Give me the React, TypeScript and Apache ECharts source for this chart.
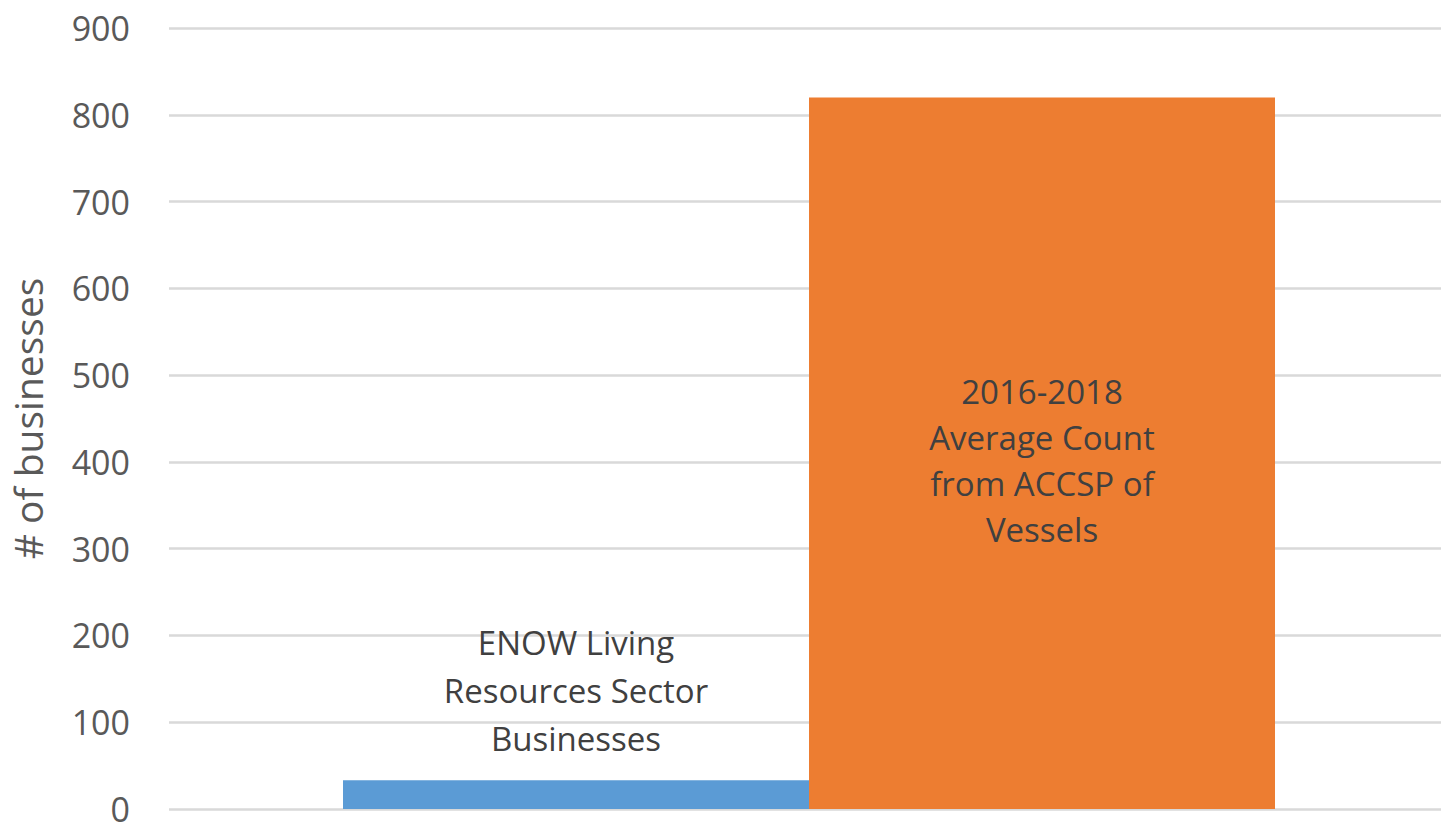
import React, { useEffect, useRef } from "react";
import * as echarts from "echarts";

const categories = [""];
const seriesNames = [
  "ENOW Living\nResources Sector\nBusinesses",
  "2016-2018\nAverage Count\nfrom ACCSP of\nVessels",
];
const enowValues = [33];
const accspValues = [820];
const yTicks = { min: 0, max: 900, interval: 100 };
const yAxisTitle = "# of businesses";

export default function App() {
  const ref = useRef<HTMLDivElement>(null);
  useEffect(() => {
    if (!ref.current) return;
    const chart = echarts.init(ref.current, null, { renderer: "svg" });
    const font = "'Open Sans', sans-serif";
    chart.setOption({
      animation: false,
      backgroundColor: "#ffffff",
      grid: { left: 167, right: 0, top: 28, bottom: 15, containLabel: false },
      xAxis: {
        type: "category",
        data: categories,
        axisLine: { show: false },
        axisTick: { show: false },
        axisLabel: { show: false },
      },
      yAxis: {
        type: "value",
        min: yTicks.min,
        max: yTicks.max,
        interval: yTicks.interval,
        name: yAxisTitle,
        nameLocation: "middle",
        nameGap: 122,
        nameTextStyle: { fontFamily: font, fontSize: 39, color: "#595959", lineHeight: 39 },
        axisLine: { show: false },
        axisTick: { show: false },
        axisLabel: {
          fontFamily: font,
          fontSize: 34,
          lineHeight: 28,
          padding: [0, 0, 4, 0],
          color: "#595959",
          margin: 39,
        },
        splitLine: { lineStyle: { color: "#d9d9d9", width: 2.5 } },
      },
      series: [
        {
          name: seriesNames[0],
          type: "bar",
          data: enowValues,
          barWidth: 466,
          barGap: "0%",
          itemStyle: { color: "#5B9BD5" },
          label: {
            show: true,
            position: "top",
            distance: 18,
            formatter: () => seriesNames[0],
            fontFamily: font,
            fontSize: 33,
            lineHeight: 48,
            color: "#404040",
          },
        },
        {
          name: seriesNames[1],
          type: "bar",
          data: accspValues,
          barWidth: 466,
          barGap: "0%",
          itemStyle: { color: "#ED7D31" },
          label: {
            show: true,
            position: "inside",
            offset: [0, 7],
            formatter: () => seriesNames[1],
            fontFamily: font,
            fontSize: 33,
            lineHeight: 46,
            color: "#404040",
          },
        },
      ],
    });
    return () => chart.dispose();
  }, []);
  return (
    <div style={{ position: "fixed", left: 0, top: 0, width: 1441, height: 826, overflow: "hidden" }}>
      <div ref={ref} style={{ width: 1449, height: 826 }} />
    </div>
  );
}
